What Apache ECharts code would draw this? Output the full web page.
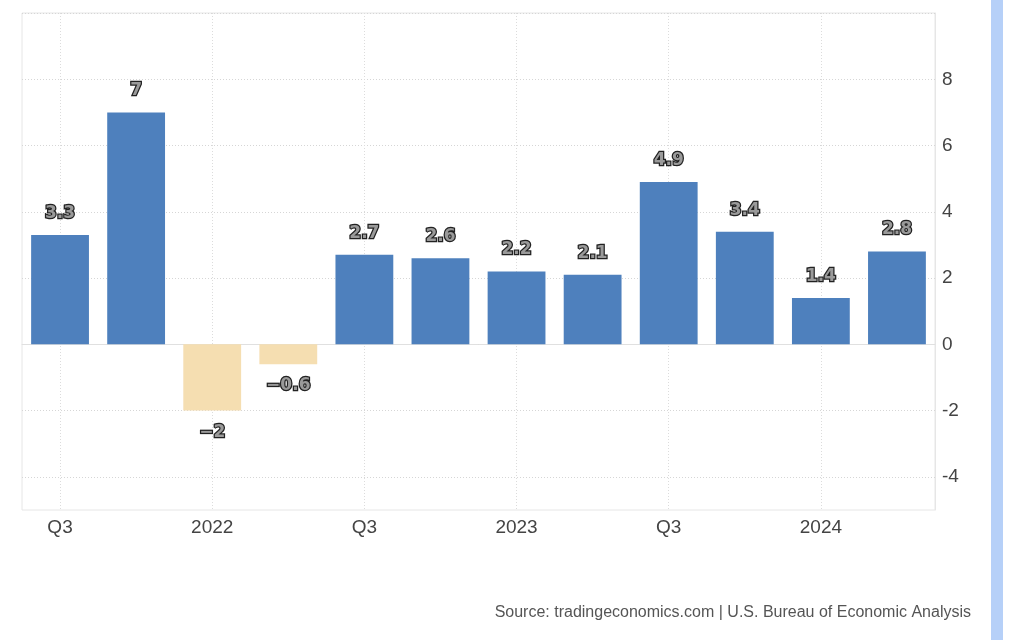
<!DOCTYPE html>
<html><head><meta charset="utf-8">
<script src="https://cdn.jsdelivr.net/npm/echarts@6/dist/echarts.min.js"></script>
<style>html,body{margin:0;padding:0;background:#fff}#c{width:1024px;height:640px}</style>
</head><body><div id="c"></div>
<script>
const categories = ['2021 Q3','2021 Q4','2022 Q1','2022 Q2','2022 Q3','2022 Q4','2023 Q1','2023 Q2','2023 Q3','2023 Q4','2024 Q1','2024 Q2'];
const xTickLabels = ['Q3','','2022','','Q3','','2023','','Q3','','2024',''];
const values = [3.3, 7, -2, -0.6, 2.7, 2.6, 2.2, 2.1, 4.9, 3.4, 1.4, 2.8];
const yTickLabels = [-4, -2, 0, 2, 4, 6, 8];
const sourceText = 'Source: tradingeconomics.com | U.S. Bureau of Economic Analysis';

const chart = echarts.init(document.getElementById('c'));
chart.setOption({
  animation: false,
  backgroundColor: '#fff',
  grid: { left: 22, right: 89, top: 13, bottom: 130, show: true, borderColor: '#e6e6e6', borderWidth: 1, containLabel: false },
  xAxis: {
    type: 'category', data: categories,
    axisLine: { show: true, lineStyle: { color: '#e0e0e0' } },
    axisTick: { show: false },
    axisLabel: { interval: 0, formatter: (v, i) => xTickLabels[i], color: '#444', fontSize: 19, fontFamily: 'Liberation Sans, Arial, sans-serif', margin: 8 },
    splitLine: { show: true, interval: (i) => i % 2 === 0 && i < 11, alignWithLabel: true, lineStyle: { color: '#dcdcdc', type: [1, 2], width: 1 } }
  },
  yAxis: {
    type: 'value', position: 'right', min: -5, max: 10, interval: 1,
    axisLine: { show: true, lineStyle: { color: '#e6e6e6' } },
    axisTick: { show: false },
    axisLabel: { formatter: v => (yTickLabels.indexOf(v) >= 0 ? String(v) : ''), color: '#444', fontSize: 19, fontFamily: 'Liberation Sans, Arial, sans-serif', margin: 7 },
    splitLine: { show: true, lineStyle: { color: ['transparent', '#d6d6d6'], type: [1, 2], width: 1 } }
  },
  series: [{
    type: 'bar', barCategoryGap: '24%',
    data: values.map(v => ({ value: v, itemStyle: { color: v < 0 ? '#f5deb1' : '#4e80bd' } })),
    label: {
      show: true, position: 'outside', distance: 13,
      formatter: p => (p.value < 0 ? '\u2212' + Math.abs(p.value) : String(p.value)),
      fontFamily: 'DejaVu Sans, sans-serif', fontWeight: 'bold', fontSize: 17,
      color: '#9a9a9a', textBorderColor: '#222', textBorderWidth: 2.5
    }
  }],
  graphic: [
    { type: 'rect', shape: { x: 991, y: 0, width: 12, height: 640 }, style: { fill: '#b6d0f8' } },
    { type: 'text', right: 53, top: 605, style: { text: sourceText, fill: '#555', fontSize: 16, fontFamily: 'Liberation Sans, Arial, sans-serif' } }
  ]
});
</script></body></html>
